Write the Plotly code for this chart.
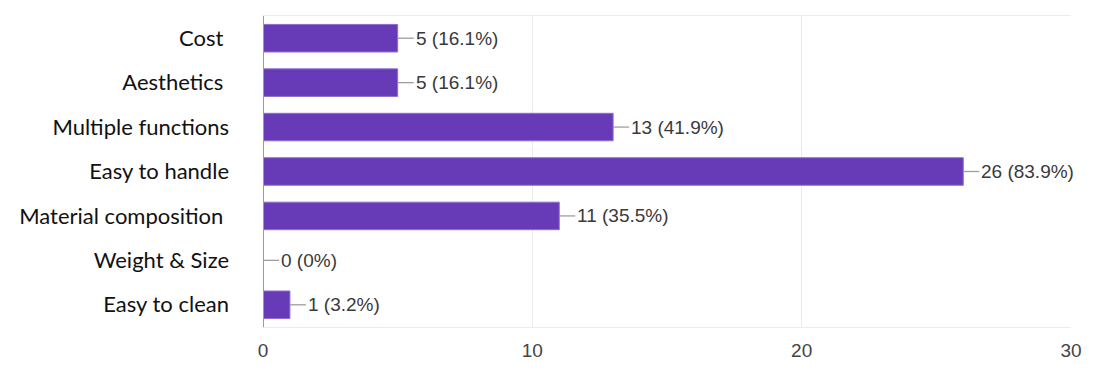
import plotly.graph_objects as go

categories = ["Cost", "Aesthetics", "Multiple functions", "Easy to handle",
              "Material composition", "Weight & Size", "Easy to clean"]
category_labels = ["Cost\u00a0", "Aesthetics\u00a0", "Multiple functions", "Easy to handle",
                   "Material composition\u00a0", "Weight & Size", "Easy to clean"]
counts = [5, 5, 13, 26, 11, 0, 1]
total = 31
x_ticks = [0, 10, 20, 30]

labels = []
for c in counts:
    p = c / total * 100
    labels.append(f"{c} ({p:.1f}%)" if c else "0 (0%)")

fig = go.Figure()
fig.add_trace(go.Bar(
    y=categories, x=counts, orientation="h",
    marker=dict(color="#673ab7", line=dict(color="#8e6fd0", width=1)),
    width=0.62, hoverinfo="skip",
))

for cat, c, lab in zip(categories, counts, labels):
    fig.add_shape(type="line", xref="x", yref="y", xsizemode="pixel",
                  xanchor=c, x0=0, x1=16, y0=cat, y1=cat,
                  line=dict(color="#9e9e9e", width=1.3))
    fig.add_annotation(x=c, y=cat, xref="x", yref="y", text=lab,
                       showarrow=False, xanchor="left", xshift=16,
                       font=dict(family="Liberation Sans, Arial", size=19, color="#3a3a3a"))

fig.update_layout(
    width=1100, height=373,
    margin=dict(l=263, r=29, t=16, b=42),
    plot_bgcolor="white", paper_bgcolor="white",
    showlegend=False,
)
fig.update_xaxes(range=[0, 30], tickvals=x_ticks, showgrid=True,
                 gridcolor="#ebebeb", gridwidth=1, zeroline=False,
                 showline=True, linecolor="#ebebeb", mirror=True,
                 ticks="", ticklen=0, ticklabelstandoff=6,
                 tickfont=dict(family="Liberation Sans, Arial", size=19, color="#444444"))
fig.update_yaxes(categoryorder="array", categoryarray=categories, autorange="reversed",
                 tickvals=categories, ticktext=category_labels,
                 showgrid=False, showline=False, zeroline=False, ticks="",
                 ticklabelstandoff=33,
                 tickfont=dict(family="Lato, Open Sans", size=22, color="#111111"))
# zero axis line
fig.add_shape(type="line", xref="x", yref="paper", x0=0, x1=0, y0=0, y1=1,
              line=dict(color="#9a9a9a", width=2))

fig.write_html("out.html")
